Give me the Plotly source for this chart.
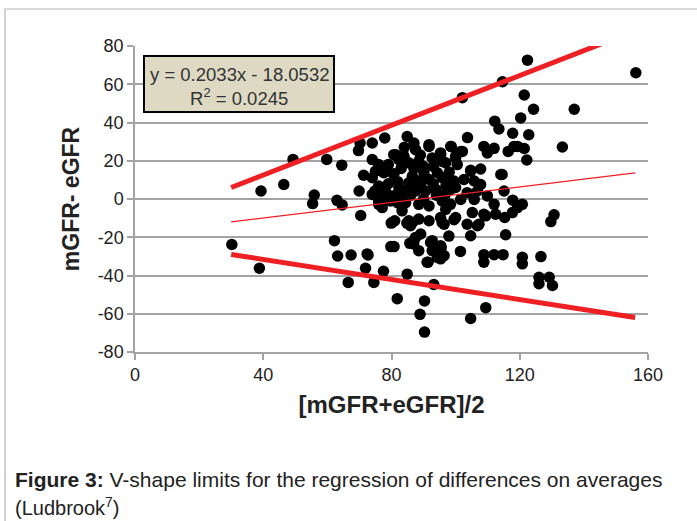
import plotly.graph_objects as go

# Bland-Altman style data: averages (x) and differences (y)
avg_vals = [30.2, 38.8, 39.3, 46.4, 49.3, 55.9, 55.4, 59.8, 64.5, 63.0, 64.6, 62.2, 63.2, 67.4, 72.7, 71.9,
            66.5, 74.5, 70.4, 69.9, 71.3, 70.2, 69.7, 74.0, 74.0, 74.8, 75.0, 81.8, 77.5, 79.8, 80.8, 79.9,
            81.0, 84.8, 85.7, 84.9, 77.4, 80.7, 77.9, 84.9, 80.7, 82.3, 83.9, 75.5, 76.0, 77.6, 79.7, 81.8,
            83.9, 84.9, 76.6, 87.0, 91.7, 76.0, 85.4, 88.5, 92.7, 95.3, 77.6, 74.0, 86.5, 90.1, 94.3, 76.0,
            78.1, 82.3, 85.4, 88.5, 91.7, 95.8, 74.0, 76.0, 80.2, 83.3, 87.5, 90.6, 93.8, 84.4, 88.5, 91.7,
            77.1, 80.2, 85.4, 88.5, 91.7, 95.3, 83.3, 86.5, 95.8, 72.4, 87.5, 86.9, 88.5, 92.2, 92.7, 95.3,
            91.1, 93.2, 90.3, 88.9, 90.3, 94.3, 89.1, 85.9, 102.1, 114.6, 121.4, 120.3, 112.2, 113.5, 117.8,
            122.8, 103.7, 98.5, 95.3, 100.0, 101.6, 108.8, 112.0, 109.9, 116.4, 119.3, 122.2, 96.9, 100.5,
            104.7, 107.8, 114.5, 96.4, 99.5, 102.6, 105.8, 107.8, 98.4, 103.6, 106.8, 109.9, 115.1, 117.8,
            96.4, 101.6, 105.8, 112.0, 119.3, 96.9, 105.2, 108.8, 112.5, 117.7, 100.0, 99.5, 109.4, 115.3,
            96.4, 103.6, 106.8, 97.9, 104.7, 115.6, 95.5, 96.4, 101.5, 108.8, 108.8, 112.0, 114.8, 120.8,
            120.8, 109.4, 104.7, 122.4, 156.2, 124.3, 137.0, 121.4, 133.3, 120.8, 130.7, 129.7, 126.6,
            126.0, 126.0, 129.2, 130.2, 118.2, 107.3, 98.4, 95.8, 91.4, 95.3, 87.0, 92.7, 87.5, 91.7, 98.6,
            102.1, 81.3, 82.8, 80.7, 77.1, 95.3, 95.8, 100.0, 104.7, 114.1,
            79.0, 82.0, 86.0, 89.0, 93.0, 97.0, 100.0, 78.0, 82.0, 86.0, 90.0, 94.0, 97.0, 90.0, 87.0,
            93.0, 98.0, 83.0, 79.0, 84.0, 89.0]
diff_vals = [-23.8, -36.2, 4.2, 7.6, 20.7, 2.1, -2.4, 20.7, 17.7, -0.7, -3.1, -21.8, -29.8, -29.3, -29.3, -36.2,
             -43.6, -43.6, -8.6, 4.2, 12.4, 29.3, 25.3, 29.3, 20.6, 4.2, 14.5, -52.1, -37.8, -24.9, -24.9, -12.6,
             -11.4, -12.6, -23.2, -39.3, 14.5, 13.2, 31.9, 32.7, 23.2, 20.6, 22.3, 2.4, -2.8, 1.6, -1.0, 2.4,
             0.7, 4.2, 5.9, 29.3, 28.4, 18.0, 18.9, 19.7, 21.5, 23.2, 13.7, 11.1, 11.9, 13.7, 13.7, 6.8,
             4.2, 5.9, 8.5, 9.4, 10.2, 11.1, 2.4, -1.0, 1.6, 3.3, 4.2, 4.2, 5.0, -1.9, -2.8, -3.6,
             -4.5, -12.3, -11.4, -10.5, -11.4, -9.7, -6.2, -12.3, -12.3, -28.7, -20.1, -23.5, -27.0, -22.7, -27.0, -24.4,
             -33.1, -44.7, -53.3, -60.3, -69.6, -30.5, -18.3, -14.0, 53.0, 61.3, 54.4, 42.4, 40.7, 36.6, 34.4,
             33.6, 32.1, 27.5, 24.1, 22.3, 24.9, 27.5, 26.5, 24.1, 24.9, 27.5, 20.4, 18.9, 18.0,
             15.0, 15.7, 12.8, 11.1, 9.4, 10.2, 9.4, 7.6, 5.0, 3.3, 4.2, 1.6, 4.2, -0.6,
             -0.2, -0.2, -0.2, -2.8, -4.5, -5.4, -7.1, -8.0, -8.0, -7.1, -9.7, -10.8, -8.8, -9.7,
             -13.2, -13.2, -14.0, -19.4, -19.2, -18.7, -25.3, -29.6, -27.4, -29.1, -33.1, -29.1, -29.1, -30.5,
             -33.9, -56.8, -62.5, 72.6, 66.0, 46.9, 46.9, 26.4, 27.2, -2.8, -8.3, -11.8, -30.1,
             -40.9, -44.3, -40.9, -45.2, 27.5, -13.2, -2.8, -1.0, -33.1, -31.3, -21.8, -21.8, 25.8, 27.5, 27.5,
             24.9, 23.2, 20.6, 12.8, 14.5, 23.2, 19.7, 21.5, 14.5, 12.8,
             8.0, 9.0, 6.0, 7.0, 8.0, 7.0, 6.0, 0.0, -2.0, 2.0, 0.0, 2.0, 3.0, 17.0, 16.0,
             17.0, 14.0, 16.0, 18.0, 27.0, 23.0]

# Line end points (x from 30 to 156)
line_x = [30, 156]
upper_y = [6.0, 88.0]
regr_y = [-11.95, 13.66]
lower_y = [-29.0, -62.0]

x_ticks = [0, 40, 80, 120, 160]
x_labels = ["0", "40", "80", "120", "160"]
y_ticks = [-80, -60, -40, -20, 0, 20, 40, 60, 80]
y_labels = ["-80", "-60", "-40", "-20", "0", "20", "40", "60", "80"]

RED = "#EE2024"
FONT = "Liberation Sans, Arial, sans-serif"
GRID = "#A3A3A3"

fig = go.Figure()
fig.add_trace(go.Scatter(x=avg_vals, y=diff_vals, mode="markers",
                         marker=dict(color="black", size=11.5, line=dict(width=0)),
                         showlegend=False, cliponaxis=False))
fig.add_trace(go.Scatter(x=line_x, y=upper_y, mode="lines", line=dict(color=RED, width=5), showlegend=False))
fig.add_trace(go.Scatter(x=line_x, y=lower_y, mode="lines", line=dict(color=RED, width=5), showlegend=False))
fig.add_trace(go.Scatter(x=line_x, y=regr_y, mode="lines", line=dict(color=RED, width=1.3), showlegend=False))

fig.update_xaxes(range=[0, 160], tickvals=x_ticks, ticktext=x_labels, showgrid=False, zeroline=False,
                 showline=True, linecolor=GRID, linewidth=1.5,
                 ticks="outside", ticklen=6, tickcolor=GRID, tickwidth=1.5,
                 tickfont=dict(family=FONT, size=18, color="#222222"),
                 title=dict(text="<b>[mGFR+eGFR]/2</b>", font=dict(family=FONT, size=24, color="#222222"),
                            standoff=12))
fig.update_yaxes(range=[-80, 80], tickvals=y_ticks, ticktext=y_labels, showgrid=True, gridcolor=GRID,
                 gridwidth=1.5, zeroline=False, showline=True, linecolor=GRID, linewidth=1.5,
                 ticks="outside", ticklen=6, tickcolor=GRID, tickwidth=1.5,
                 tickfont=dict(family=FONT, size=18, color="#222222"),
                 title=dict(text="<b>mGFR- eGFR</b>", font=dict(family=FONT, size=23, color="#222222"),
                            standoff=12))

L, R, T, B = 135, 49, 46, 169
W, H = 697, 521
pw, ph = W - L - R, H - T - B

def px(xp):
    return (xp - L) / pw

def py(yp):
    return (H - B - yp) / ph

# outer figure frame
fig.add_shape(type="rect", xref="paper", yref="paper", x0=px(5), x1=px(720), y0=py(560), y1=py(9),
              line=dict(color="#B4B4B4", width=1.2), fillcolor="rgba(0,0,0,0)", layer="below")

# equation box
fig.add_shape(type="rect", xref="paper", yref="paper", x0=px(144), x1=px(334), y0=py(112), y1=py(56),
              line=dict(color="black", width=2), fillcolor="#DDD9C3", layer="above")
fig.add_annotation(xref="paper", yref="paper", x=px(239), y=py(74), xanchor="center", yanchor="middle",
                   text="y = 0.2033x - 18.0532", showarrow=False,
                   font=dict(family=FONT, size=18.5, color="#333333"))
fig.add_annotation(xref="paper", yref="paper", x=px(239), y=py(97), xanchor="center", yanchor="middle",
                   text="R<sup>2</sup> = 0.0245", showarrow=False,
                   font=dict(family=FONT, size=18.5, color="#333333"))

# caption
fig.add_annotation(xref="paper", yref="paper", x=px(13), y=py(479), xanchor="left", yanchor="middle",
                   text="<b>Figure 3:</b> V-shape limits for the regression of differences on averages",
                   showarrow=False, align="left", font=dict(family=FONT, size=21, color="#222222"))
fig.add_annotation(xref="paper", yref="paper", x=px(13), y=py(506), xanchor="left", yanchor="middle",
                   text="(Ludbrook<sup>7</sup>)",
                   showarrow=False, align="left", font=dict(family=FONT, size=20, color="#222222"))

fig.update_layout(width=W, height=H, margin=dict(l=L, r=R, t=T, b=B),
                  paper_bgcolor="white", plot_bgcolor="white")

fig.write_html("out.html")
